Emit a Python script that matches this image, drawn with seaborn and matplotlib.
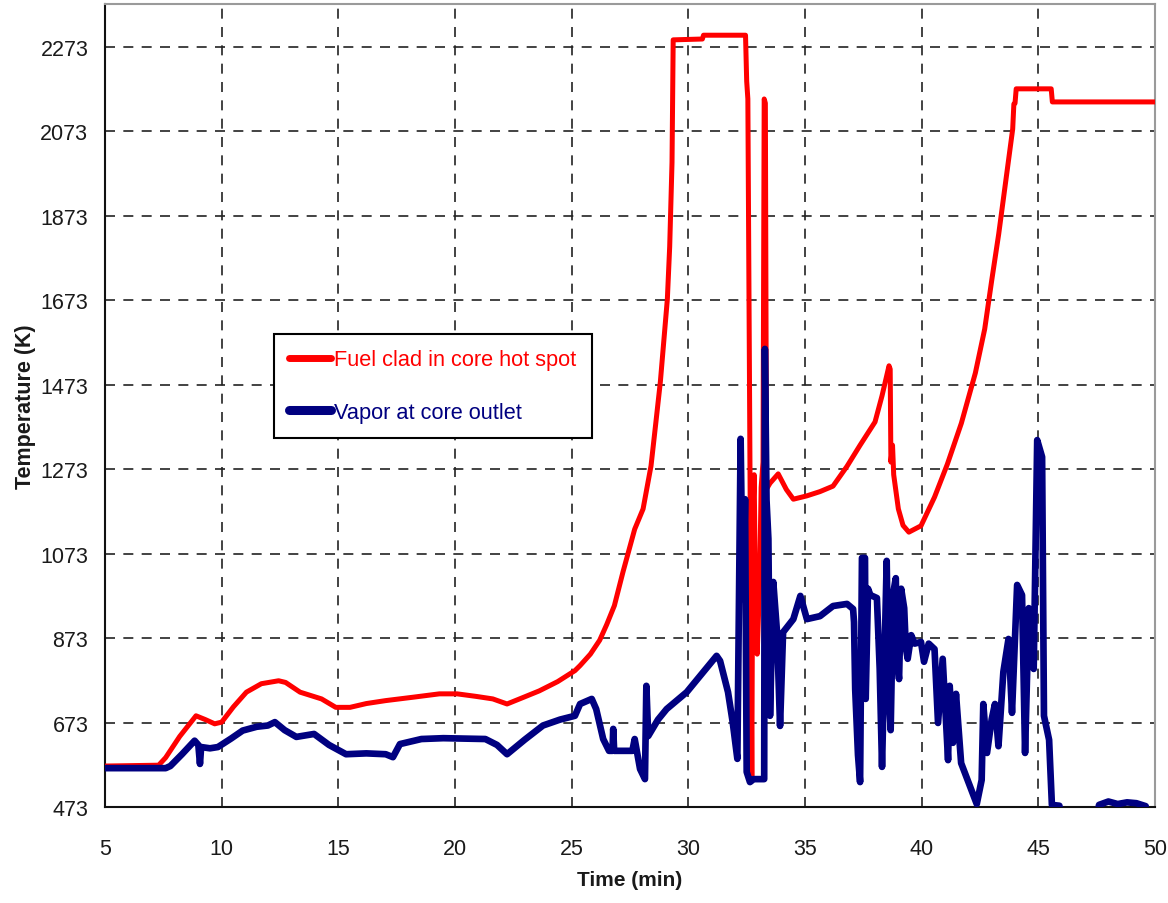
import matplotlib
matplotlib.use("Agg")
import matplotlib.pyplot as plt
import seaborn as sns
import pandas as pd

# ---------------- data ----------------
clad_time = [5.0, 7.3, 7.6, 8.2, 8.9, 9.3, 9.7, 10.0, 10.5, 11.06, 11.7, 12.44, 12.74,
             13.36, 14.28, 14.89, 15.5, 16.2, 17.03, 18.2, 19.33, 20.09, 20.9, 21.62,
             22.23, 22.9, 23.61, 24.4, 25.14, 25.36, 25.8, 26.2, 26.5, 26.83, 27.2, 27.7,
             28.06, 28.4, 28.6, 28.8, 29.1, 29.2, 29.3, 29.35, 30.6, 30.65, 32.45, 32.5,
             32.55, 32.62, 32.68, 32.72, 32.76, 32.82, 32.88, 32.95, 33.05, 33.12, 33.2,
             33.25, 33.3, 33.35, 33.5, 33.85, 34.2, 34.5, 35.08, 35.64, 36.2, 36.8, 37.36,
             38.0, 38.3, 38.6, 38.65, 38.68, 38.75, 38.8, 39.0, 39.2, 39.45, 39.97, 40.55,
             41.1, 41.7, 42.3, 42.7, 43.0, 43.3, 43.5, 43.9, 43.95, 44.0, 44.05, 45.55,
             45.6, 50.0]
clad_temp = [570, 572, 590, 640, 689, 680, 670, 674, 710, 745, 765, 772, 768,
             745, 729, 709, 709, 718, 725, 733, 741, 741, 735, 729,
             717, 732, 748, 770, 796, 808, 835, 868, 905, 950, 1030, 1131,
             1179, 1281, 1380, 1480, 1676, 1800, 2000, 2290, 2292, 2301, 2301, 2192,
             2150, 1480, 900, 545, 1150, 1260, 960, 835, 1000, 1230, 1290,
             2150, 2140, 1226, 1240, 1262, 1225, 1202, 1210, 1220, 1233, 1280, 1330,
             1385, 1447, 1518, 1510, 1290, 1330, 1260, 1179, 1140, 1124, 1139, 1207,
             1285, 1382, 1501, 1605, 1720, 1830, 1913, 2079, 2138, 2140, 2174, 2174,
             2143, 2143]

vapor_time = [5.0, 7.6, 7.8, 8.3, 8.84, 9.0, 9.07, 9.12, 9.5, 9.84, 10.4, 10.9, 11.5,
              11.98, 12.28, 12.7, 13.2, 13.96, 14.6, 15.33, 16.2, 17.03, 17.34, 17.64,
              18.56, 19.5, 20.5, 21.3, 21.8, 22.23, 23.0, 23.77, 24.5, 25.14, 25.36,
              25.86, 26.05, 26.35, 26.6, 26.75, 26.78, 26.82, 27.6, 27.7, 27.93, 28.14,
              28.2, 28.28, 28.7, 29.07, 29.93, 30.6, 31.21, 31.36, 31.7, 31.9, 32.1,
              32.24, 32.3, 32.35, 32.43, 32.5, 32.64, 32.8, 33.25, 33.28, 33.35, 33.43,
              33.5, 33.64, 33.8, 33.93, 34.06, 34.5, 34.8, 35.08, 35.64, 36.2, 36.8,
              37.06, 37.1, 37.15, 37.27, 37.36, 37.44, 37.57, 37.6, 37.7, 37.8, 38.08,
              38.2, 38.3, 38.5, 38.58, 38.67, 38.78, 38.89, 38.95, 39.03, 39.12, 39.25,
              39.32, 39.4, 39.55, 39.7, 39.97, 40.1, 40.3,
              40.55, 40.7, 40.9, 41.13, 41.2, 41.34, 41.47, 41.69, 42.13, 42.36, 42.57,
              42.64, 42.8, 43.0, 43.14, 43.29, 43.5, 43.72, 43.87, 44.09, 44.3, 44.43,
              44.59, 44.8, 44.95, 45.16, 45.24, 45.46, 45.58, 45.9, 46.0, 47.5, 47.6,
              48.0, 48.4, 48.8, 49.2, 49.6]
vapor_temp = [565, 565, 570, 598, 630, 620, 575, 615, 612, 615, 635, 654, 663,
              666, 674, 655, 639, 646, 620, 598, 600, 598, 591, 622,
              634, 636, 635, 634, 620, 598, 633, 666, 680, 689, 717,
              729, 705, 634, 606, 606, 658, 606, 606, 634, 563, 539,
              760, 641, 680, 705, 745, 790, 831, 819, 745, 674, 587,
              1345, 1100, 966, 1202, 556, 532, 539, 539, 1558, 1200, 1108,
              689, 1006, 887, 665, 887, 918, 973, 918, 925, 949, 954,
              942, 911, 752, 596, 532, 1063, 1063, 729, 990, 975, 968,
              800, 568, 1056, 760, 655, 980, 1015, 820, 776, 990, 944,
              850, 824, 880, 860, 864, 817, 860,
              847, 672, 824, 584, 760, 625, 741, 577, 513, 480, 537,
              717, 601, 681, 717, 617, 793, 871, 696, 999, 975, 601,
              944, 800, 1342, 1302, 689, 632, 478, 476, 445, 445, 478,
              486, 480, 484, 482, 475]

series_labels = ["Fuel clad in core hot spot", "Vapor at core outlet"]
series_colors = ["#FF0000", "#000080"]
x_ticks = [5, 10, 15, 20, 25, 30, 35, 40, 45, 50]
y_ticks = [473, 673, 873, 1073, 1273, 1473, 1673, 1873, 2073, 2273]

# ---------------- style ----------------
sns.set_style("white")
plt.rcParams["font.family"] = ["Liberation Sans", "DejaVu Sans"]

fig = plt.figure(figsize=(11.68, 9.04), dpi=100)
ax = fig.add_axes([0.0899, 0.1062, 0.8990, 0.8883])

clad_df = pd.DataFrame({"time": clad_time, "temp": clad_temp})
vapor_df = pd.DataFrame({"time": vapor_time, "temp": vapor_temp})

sns.lineplot(data=clad_df, x="time", y="temp", ax=ax, color=series_colors[0],
             lw=3.6, sort=False, estimator=None, label=series_labels[0], zorder=3)
sns.lineplot(data=vapor_df, x="time", y="temp", ax=ax, color=series_colors[1],
             lw=4.8, sort=False, estimator=None, label=series_labels[1], zorder=4)

ax.set_xlim(5, 50)
ax.set_ylim(473, 2375)
ax.set_xticks(x_ticks)
ax.set_xticklabels([str(v) for v in x_ticks])
ax.set_yticks(y_ticks)
ax.set_yticklabels([str(v) for v in y_ticks])

ax.grid(True, color="#222222", linestyle=(0, (6, 5)), lw=1.2)
ax.set_axisbelow(True)

for side in ["left", "bottom"]:
    ax.spines[side].set_color("#111111")
    ax.spines[side].set_linewidth(1.5)
for side in ["top", "right"]:
    ax.spines[side].set_color("#9a9a9a")
    ax.spines[side].set_linewidth(1.5)

ax.tick_params(axis="x", direction="out", length=7, width=1.3, pad=15,
               labelsize=15.5, colors="#1a1a1a")
ax.tick_params(axis="y", direction="out", length=7, width=1.3, pad=5,
               labelsize=15.5, colors="#1a1a1a")

ax.set_xlabel("Time (min)", fontsize=15, fontweight="bold", color="#1a1a1a")
ax.set_ylabel("Temperature (K)", fontsize=15.5, fontweight="bold", color="#1a1a1a")
ax.xaxis.set_label_coords(0.5, -0.079)
ax.yaxis.set_label_coords(-0.066, 0.5)

leg = ax.legend(loc="upper left", bbox_to_anchor=(0.161, 0.589), frameon=True,
                fancybox=False, edgecolor="black", framealpha=1, fontsize=15.7,
                handlelength=1.9, handletextpad=0.15, borderpad=0.7,
                labelspacing=1.45, borderaxespad=0)
leg.get_frame().set_linewidth(1.5)
for txt, col in zip(leg.get_texts(), series_colors):
    txt.set_color(col)
for line, lw in zip(leg.get_lines(), [5, 6.5]):
    line.set_linewidth(lw)

fig.savefig("out.png", dpi=100)
